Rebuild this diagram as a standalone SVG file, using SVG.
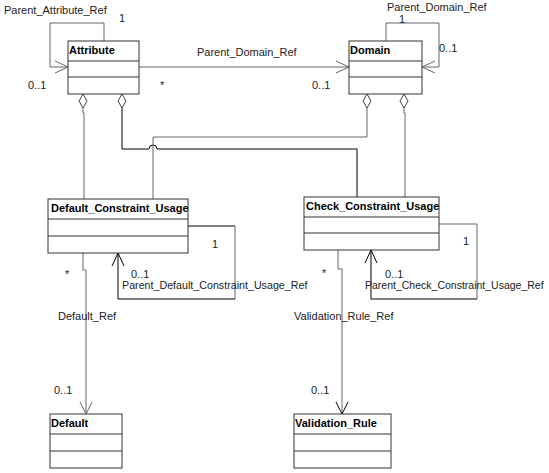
<svg xmlns="http://www.w3.org/2000/svg" width="549" height="473" viewBox="0 0 549 473">
<style>
text{font-family:"Liberation Sans",Arial,sans-serif;font-size:11px;fill:#222}
.n{font-weight:bold;fill:#000}
.box{fill:#fff;stroke:#333;stroke-width:1}
.c{fill:none;stroke:#666;stroke-width:1}
.k{fill:none;stroke:#000;stroke-width:1}
.dia{fill:#fff;stroke:#444;stroke-width:1}
</style>
<rect width="549" height="473" fill="#fff"/>
<g id="connectors">
  <!-- Attribute self loop -->
  <polyline class="c" points="104,41 104,23 50,23 50,67 68,67"/>
  <polyline class="c" points="55,61 68,67 55,73"/>
  <!-- Attribute -> Domain -->
  <line class="c" x1="139" y1="67" x2="349" y2="67"/>
  <polyline class="c" points="336,61 349,67 336,73"/>
  <!-- Domain self loop -->
  <polyline class="c" points="386,41 386,23 439,23 439,67 422,67"/>
  <polyline class="c" points="435,61 422,67 435,73"/>
  <!-- Attribute -> Default_Constraint_Usage (aggregation) -->
  <polyline class="c" points="83,108 83,113 84,113 84,199"/>
  <!-- Attribute -> Check_Constraint_Usage (aggregation), with hop -->
  <path class="k" d="M122,108 V149 H149 A4,4 0 0 1 157,149 H357 V197"/>
  <!-- Domain -> Default_Constraint_Usage -->
  <polyline class="c" points="367,108 367,137 153,137 153,199"/>
  <!-- Domain -> Check_Constraint_Usage -->
  <polyline class="c" points="404,108 404,113 405,113 405,197"/>
  <!-- Default_Constraint_Usage self loop -->
  <polyline class="k" points="188,226 235,226"/>
  <polyline class="c" points="235,226 235,299"/>
  <polyline class="k" points="235,299 118,299 118,253"/>
  <polyline class="k" points="112,266 118,253 124,266"/>
  <!-- Check_Constraint_Usage self loop -->
  <polyline class="c" points="439,224 477,224 477,299"/>
  <polyline class="k" points="477,299 371,299 371,250"/>
  <polyline class="k" points="365,263 371,250 377,263"/>
  <!-- Default_Ref -->
  <polyline class="c" points="83,253 83,270 86,270 86,414"/>
  <polyline class="c" points="80,402 86,414 92,402"/>
  <!-- Validation_Rule_Ref -->
  <polyline class="c" points="338,250 338,269 342,269 342,414"/>
  <polyline class="k" points="336,402 342,414 348,402"/>
  <!-- diamonds -->
  <polygon class="dia" points="83,94 87,101 83,108 79,101"/>
  <polygon class="dia" points="122,94 126,101 122,108 118,101"/>
  <polygon class="dia" points="367,94 371,101 367,108 363,101"/>
  <polygon class="dia" points="404,94 408,101 404,108 400,101"/>
</g>
<g id="labels">
  <text x="4" y="14">Parent_Attribute_Ref</text>
  <text x="119" y="22">1</text>
  <text x="28" y="89">0..1</text>
  <text x="160" y="89">*</text>
  <text x="197" y="56">Parent_Domain_Ref</text>
  <text x="312" y="89">0..1</text>
  <text x="387" y="11">Parent_Domain_Ref</text>
  <text x="399" y="23">1</text>
  <text x="439" y="52">0..1</text>
  <text x="212" y="248">1</text>
  <text x="463" y="245">1</text>
  <text x="65" y="278">*</text>
  <text x="322" y="277">*</text>
  <text x="131" y="278">0..1</text>
  <text x="122" y="289" style="font-size:10.7px">Parent_Default_Constraint_Usage_Ref</text>
  <text x="385" y="278">0..1</text>
  <text x="365" y="289" style="font-size:10.5px">Parent_Check_Constraint_Usage_Ref</text>
  <text x="58" y="320">Default_Ref</text>
  <text x="294" y="320">Validation_Rule_Ref</text>
  <text x="54" y="394">0..1</text>
  <text x="311" y="394">0..1</text>
</g>
<g id="Attribute">
  <rect class="box" x="68" y="41" width="71" height="53"/>
  <line class="box" x1="68" y1="61" x2="139" y2="61"/>
  <line class="box" x1="68" y1="77" x2="139" y2="77"/>
  <text class="n" x="69" y="54">Attribute</text>
</g>
<g id="Domain">
  <rect class="box" x="349" y="41" width="73" height="53"/>
  <line class="box" x1="349" y1="61" x2="422" y2="61"/>
  <line class="box" x1="349" y1="77" x2="422" y2="77"/>
  <text class="n" x="350" y="54">Domain</text>
</g>
<g id="Default_Constraint_Usage">
  <rect class="box" x="48" y="199" width="140" height="54"/>
  <line class="box" x1="48" y1="219" x2="188" y2="219"/>
  <line class="box" x1="48" y1="236" x2="188" y2="236"/>
  <text class="n" x="51" y="212">Default_Constraint_Usage</text>
</g>
<g id="Check_Constraint_Usage">
  <rect class="box" x="304" y="197" width="135" height="53"/>
  <line class="box" x1="304" y1="217" x2="439" y2="217"/>
  <line class="box" x1="304" y1="233" x2="439" y2="233"/>
  <text class="n" x="306" y="210">Check_Constraint_Usage</text>
</g>
<g id="Default">
  <rect class="box" x="50" y="414" width="72" height="54"/>
  <line class="box" x1="50" y1="434" x2="122" y2="434"/>
  <line class="box" x1="50" y1="451" x2="122" y2="451"/>
  <text class="n" x="51" y="427">Default</text>
</g>
<g id="Validation_Rule">
  <rect class="box" x="294" y="414" width="97" height="54"/>
  <line class="box" x1="294" y1="434" x2="391" y2="434"/>
  <line class="box" x1="294" y1="451" x2="391" y2="451"/>
  <text class="n" x="295" y="427">Validation_Rule</text>
</g>
</svg>
